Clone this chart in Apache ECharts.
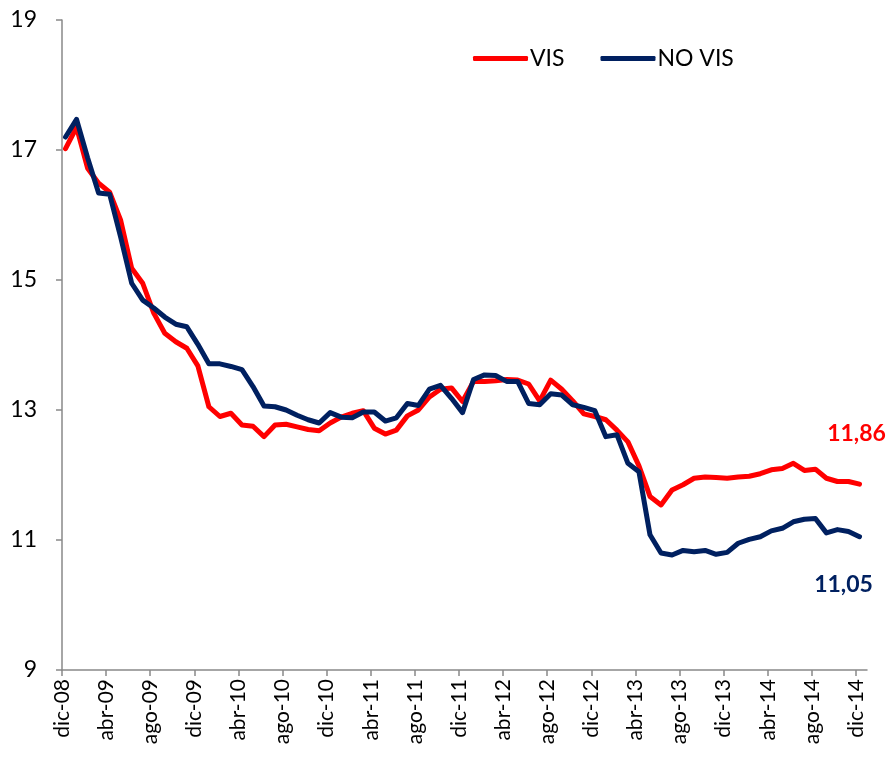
<!DOCTYPE html>
<html>
<head>
<meta charset="utf-8">
<script src="https://cdn.jsdelivr.net/npm/echarts@6/dist/echarts.min.js"></script>
<style>
html,body{margin:0;padding:0;background:#fff;}
#chart{width:891px;height:762px;}
</style>
</head>
<body>
<div id="chart"></div>
<script>
// Month index 0 = dic-08 ... 72 = dic-14 (observations fall ~10 days into each month)
var tickLabels = ['dic-08','abr-09','ago-09','dic-09','abr-10','ago-10','dic-10','abr-11','ago-11','dic-11','abr-12','ago-12','dic-12','abr-13','ago-13','dic-13','abr-14','ago-14','dic-14'];
var obsOffset = 0.32; // fraction of a month after month start

var visValues = [
  17.02,17.35,16.72,16.49,16.35,15.92,15.18,14.95,14.49,14.18,14.05,13.95,
  13.68,13.05,12.90,12.95,12.77,12.75,12.59,12.77,12.78,12.74,12.70,12.68,
  12.80,12.89,12.95,12.99,12.72,12.63,12.69,12.91,13.00,13.20,13.32,13.34,
  13.13,13.44,13.44,13.45,13.47,13.46,13.40,13.14,13.46,13.32,13.14,12.94,
  12.90,12.85,12.69,12.51,12.14,11.67,11.54,11.77,11.85,11.95,11.97,11.96,
  11.95,11.97,11.98,12.02,12.08,12.10,12.18,12.07,12.09,11.95,11.90,11.90,
  11.86
];
var noVisValues = [
  17.20,17.47,16.88,16.34,16.32,15.66,14.95,14.69,14.57,14.43,14.32,14.28,
  14.01,13.71,13.71,13.67,13.62,13.36,13.06,13.05,13.00,12.92,12.85,12.80,
  12.96,12.89,12.88,12.97,12.97,12.83,12.88,13.10,13.07,13.32,13.38,13.18,
  12.96,13.47,13.54,13.53,13.44,13.44,13.10,13.08,13.25,13.23,13.08,13.04,
  12.99,12.59,12.62,12.18,12.05,11.08,10.80,10.77,10.84,10.82,10.84,10.78,
  10.81,10.95,11.01,11.05,11.14,11.18,11.28,11.32,11.33,11.11,11.16,11.13,
  11.05
];

var seriesNames = ['VIS','NO VIS'];
var colors = ['#FF0000','#002060'];
var FONT = 'Lato, "Open Sans", sans-serif';

function toPoints(arr){
  return arr.map(function(v,i){ return [i + obsOffset, v]; });
}
var tickValues = tickLabels.map(function(_,k){ return k*4; });
function fmt(v){ return v.toFixed(2).replace('.',','); }

var lastIdx = visValues.length - 1;

var chart = echarts.init(document.getElementById('chart'), null, {renderer:'canvas'});
chart.setOption({
  animation:false,
  backgroundColor:'#ffffff',
  grid:{left:62, right:24, top:20, bottom:92, containLabel:false},
  legend:{
    data:seriesNames,
    left:468, top:42,
    icon:'roundRect',
    itemWidth:55, itemHeight:5,
    itemGap:36,
    textStyle:{fontFamily:FONT, fontSize:23, color:'#000', padding:[0,0,0,-3]}
  },
  xAxis:{
    type:'value', min:0, max:73,
    axisLine:{show:true, lineStyle:{color:'#898989', width:1.5}},
    axisTick:{show:true, length:6, inside:false, customValues:tickValues, lineStyle:{color:'#898989', width:1.5}},
    splitLine:{show:false},
    axisLabel:{
      customValues:tickValues,
      rotate:90, margin:9,
      fontFamily:FONT, fontSize:21, color:'#000',
      formatter:function(v){ return tickLabels[Math.round(v/4)] || ''; }
    }
  },
  yAxis:{
    type:'value', min:9, max:19, interval:2,
    axisLine:{show:true, lineStyle:{color:'#898989', width:1.5}},
    axisTick:{show:true, length:6, lineStyle:{color:'#898989', width:1.5}},
    splitLine:{show:false},
    axisLabel:{fontFamily:FONT, fontSize:23, color:'#000', margin:25}
  },
  series:[
    {
      name:seriesNames[0], type:'line', data:toPoints(visValues),
      showSymbol:false, symbol:'none',
      lineStyle:{color:colors[0], width:5, join:'round', cap:'round'},
      itemStyle:{color:colors[0]},
      z:2,
      markPoint:{
        symbol:'circle', symbolSize:1, itemStyle:{color:'rgba(0,0,0,0)'},
        label:{show:true, position:'inside', offset:[-3,-51], formatter:function(){return fmt(visValues[lastIdx]);},
               fontFamily:FONT, fontSize:23, fontWeight:'bold', color:colors[0]},
        data:[{coord:[lastIdx+obsOffset, visValues[lastIdx]]}]
      }
    },
    {
      name:seriesNames[1], type:'line', data:toPoints(noVisValues),
      showSymbol:false, symbol:'none',
      lineStyle:{color:colors[1], width:5, join:'round', cap:'round'},
      itemStyle:{color:colors[1]},
      z:3,
      markPoint:{
        symbol:'circle', symbolSize:1, itemStyle:{color:'rgba(0,0,0,0)'},
        label:{show:true, position:'inside', offset:[-16,48], formatter:function(){return fmt(noVisValues[lastIdx]);},
               fontFamily:FONT, fontSize:23, fontWeight:'bold', color:colors[1]},
        data:[{coord:[lastIdx+obsOffset, noVisValues[lastIdx]]}]
      }
    }
  ]
});
</script>
</body>
</html>
